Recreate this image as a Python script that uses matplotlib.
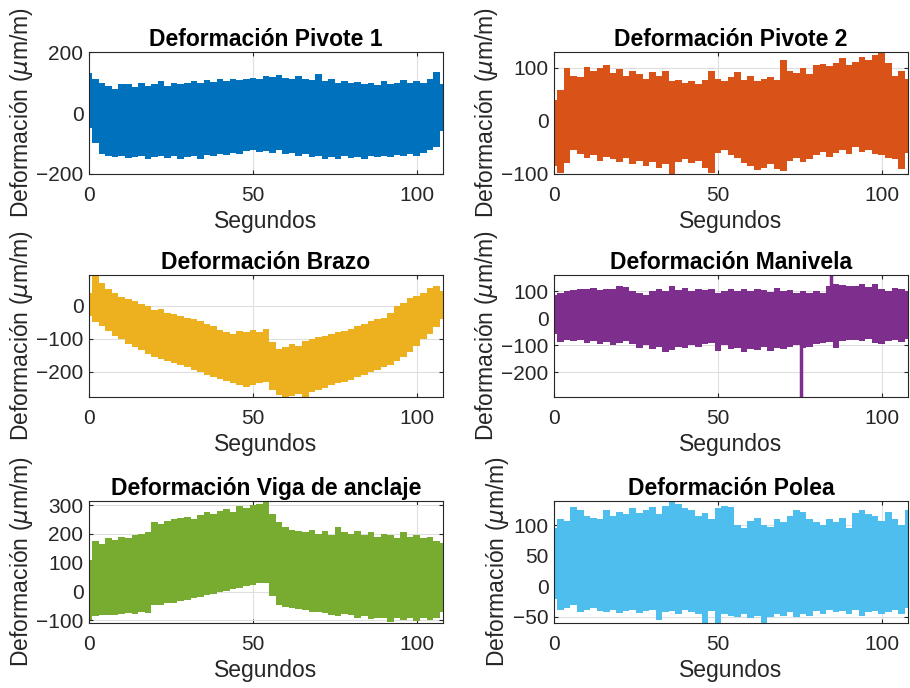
import numpy as np
import matplotlib.pyplot as plt

plt.rcParams["font.family"] = ["Liberation Sans", "DejaVu Sans"]

# sample instants (s) for the upper / lower envelope of each strain record
t = np.arange(0, 109, 2)

titles = [
    "Deformación Pivote 1",
    "Deformación Pivote 2",
    "Deformación Brazo",
    "Deformación Manivela",
    "Deformación Viga de anclaje",
    "Deformación Polea",
]

colors = ["#0072BD", "#D95319", "#EDB120", "#7E2F8E", "#77AC30", "#4DBEEE"]

pivote1_hi = [
    130, 110, 100, 90, 80, 95, 95, 85, 100, 90, 95,
    105, 88, 100, 95, 100, 105, 98, 108, 102, 110, 105,
    112, 108, 110, 115, 112, 122, 118, 125, 115, 112, 120,
    110, 108, 128, 105, 110, 100, 105, 98, 102, 95, 100,
    92, 105, 95, 100, 108, 100, 105, 100, 110, 135, 95,
]
pivote1_lo = [
    -50, -100, -135, -140, -145, -142, -148, -145, -140, -150, -145,
    -140, -148, -142, -150, -145, -140, -150, -138, -140, -135, -138,
    -130, -135, -125, -120, -128, -125, -130, -122, -135, -130, -140,
    -135, -145, -140, -150, -145, -152, -140, -148, -145, -150, -142,
    -145, -140, -145, -138, -140, -135, -140, -130, -120, -110, -60,
]

pivote2_hi = [
    40, 58, 100, 85, 82, 102, 95, 100, 105, 90, 98,
    85, 95, 88, 80, 92, 85, 95, 75, 78, 72, 75,
    70, 78, 95, 80, 76, 82, 92, 78, 85, 75, 80,
    82, 78, 115, 95, 90, 100, 88, 105, 108, 104, 110,
    118, 105, 112, 120, 115, 125, 130, 110, 85, 95, 80,
]
pivote2_lo = [
    -85, -98, -80, -55, -62, -70, -65, -75, -68, -72, -78,
    -70, -82, -75, -85, -78, -88, -82, -100, -78, -72, -80,
    -75, -88, -98, -60, -55, -65, -70, -80, -85, -92, -88,
    -82, -90, -95, -75, -70, -78, -72, -65, -58, -68, -60,
    -55, -62, -50, -58, -55, -62, -65, -70, -72, -90, -60,
]

brazo_hi = [
    40, 90, 70, 50, 40, 28, 20, 15, 5, 0, -12,
    -10, -20, -25, -30, -35, -40, -45, -55, -60, -72, -80,
    -85, -75, -80, -72, -78, -70, -110, -130, -125, -115, -120,
    -105, -100, -95, -90, -85, -80, -75, -70, -60, -55, -45,
    -40, -35, -20, 0, 10, 25, 30, 40, 55, 60, 45,
]
brazo_lo = [
    -30, -50, -60, -75, -90, -100, -115, -125, -135, -145, -155,
    -160, -168, -172, -180, -185, -195, -200, -208, -215, -222, -228,
    -235, -240, -245, -240, -235, -230, -255, -270, -275, -272, -268,
    -275, -262, -255, -248, -240, -235, -230, -225, -215, -208, -200,
    -195, -185, -178, -168, -155, -140, -120, -100, -85, -65, -40,
]

manivela_hi = [
    85, 95, 100, 105, 110, 108, 112, 105, 110, 108, 118,
    115, 100, 95, 85, 102, 110, 100, 118, 105, 112, 100,
    108, 105, 110, 95, 100, 108, 102, 110, 100, 108, 104,
    98, 112, 100, 105, 95, 100, 92, 100, 95, 120, 125,
    122, 120, 118, 128, 115, 125, 110, 100, 112, 108, 100,
]
manivela_lo = [
    -60, -88, -82, -85, -80, -90, -85, -95, -88, -100, -92,
    -85, -95, -110, -100, -115, -105, -125, -118, -105, -110, -100,
    -108, -95, -90, -120, -100, -115, -110, -125, -112, -118, -105,
    -122, -110, -115, -108, -100, -110, -105, -95, -90, -88, -110,
    -85, -80, -82, -85, -78, -90, -95, -85, -80, -88, -75,
]
# isolated single-sample peaks in the crank record
manivela_spike_t = [75.3, 84.6]
manivela_spike_y = [-291, 160]

viga_hi = [
    110, 175, 165, 185, 180, 190, 185, 195, 200, 205, 240,
    235, 245, 250, 255, 260, 250, 265, 275, 270, 280, 285,
    275, 295, 290, 300, 305, 315, 270, 240, 225, 215, 210,
    205, 215, 200, 210, 195, 225, 205, 200, 210, 195, 205,
    190, 200, 195, 185, 205, 190, 195, 185, 190, 175, 170,
]
viga_lo = [
    -100, -85, -82, -80, -80, -78, -75, -78, -72, -75, -48,
    -45, -40, -38, -32, -30, -22, -20, -12, -10, -2, 2,
    8, 12, 18, 22, 28, 30, -15, -45, -55, -58, -62,
    -65, -70, -72, -75, -80, -85, -78, -82, -90, -85, -95,
    -90, -92, -105, -90, -98, -92, -102, -90, -98, -92, -70,
]

polea_hi = [
    95, 110, 108, 130, 125, 115, 112, 110, 125, 115, 122,
    118, 128, 120, 125, 130, 118, 132, 138, 135, 128, 125,
    115, 120, 110, 128, 132, 130, 100, 95, 108, 112, 100,
    98, 110, 105, 115, 125, 122, 110, 105, 100, 110, 105,
    112, 95, 120, 125, 118, 115, 108, 122, 110, 100, 125,
]
polea_lo = [
    -20, -38, -35, -30, -42, -38, -35, -40, -42, -38, -44,
    -40, -38, -44, -40, -38, -55, -42, -40, -45, -38, -42,
    -45, -60, -40, -60, -45, -48, -50, -45, -52, -48, -60,
    -50, -45, -48, -42, -50, -45, -48, -40, -45, -38, -42,
    -40, -45, -38, -48, -42, -40, -45, -42, -38, -45, -35,
]

highs = [pivote1_hi, pivote2_hi, brazo_hi, manivela_hi, viga_hi, polea_hi]
lows = [pivote1_lo, pivote2_lo, brazo_lo, manivela_lo, viga_lo, polea_lo]

ylims = [(-200, 200), (-100, 130), (-276, 94), (-291, 160), (-109, 314), (-60, 140)]
yticks = [
    [-200, 0, 200],
    [-100, 0, 100],
    [-200, -100, 0],
    [-200, -100, 0, 100],
    [-100, 0, 100, 200, 300],
    [-50, 0, 50, 100],
]

fig = plt.figure(figsize=(9.1, 6.88), dpi=100)

lefts = [0.0978, 0.6088]
bottoms = [0.7471, 0.423, 0.0945]
w, h = 0.389, 0.1773

dark = "#262626"

for i in range(6):
    row, col = divmod(i, 2)
    ax = fig.add_axes([lefts[col], bottoms[row], w, h])

    ax.fill_between(t, lows[i], highs[i], step="mid",
                    color=colors[i], lw=0, zorder=2)
    if i == 3:
        ax.vlines(manivela_spike_t, 0, manivela_spike_y,
                  color=colors[i], lw=2.5, zorder=2)

    ax.set_xlim(0, 108)
    ax.set_ylim(*ylims[i])
    ax.set_xticks([0, 50, 100])
    ax.set_yticks(yticks[i])

    ax.grid(True, color="#dfdfdf", lw=0.8)
    ax.set_axisbelow(True)
    ax.tick_params(direction="in", top=True, right=True, length=3,
                   labelsize=15, colors=dark)
    ax.tick_params(axis="x", pad=9)
    ax.tick_params(axis="y", pad=4)
    for s in ax.spines.values():
        s.set_color(dark)
        s.set_linewidth(0.8)

    ax.set_title(titles[i], fontsize=16.5, fontweight="bold", pad=4)
    ax.set_xlabel("Segundos", fontsize=16.5, color=dark, labelpad=3)
    ax.set_ylabel(r"Deformación ($\mu$m/m)", fontsize=16.5,
                  color=dark, labelpad=1)

fig.savefig("out.png", dpi=100)
